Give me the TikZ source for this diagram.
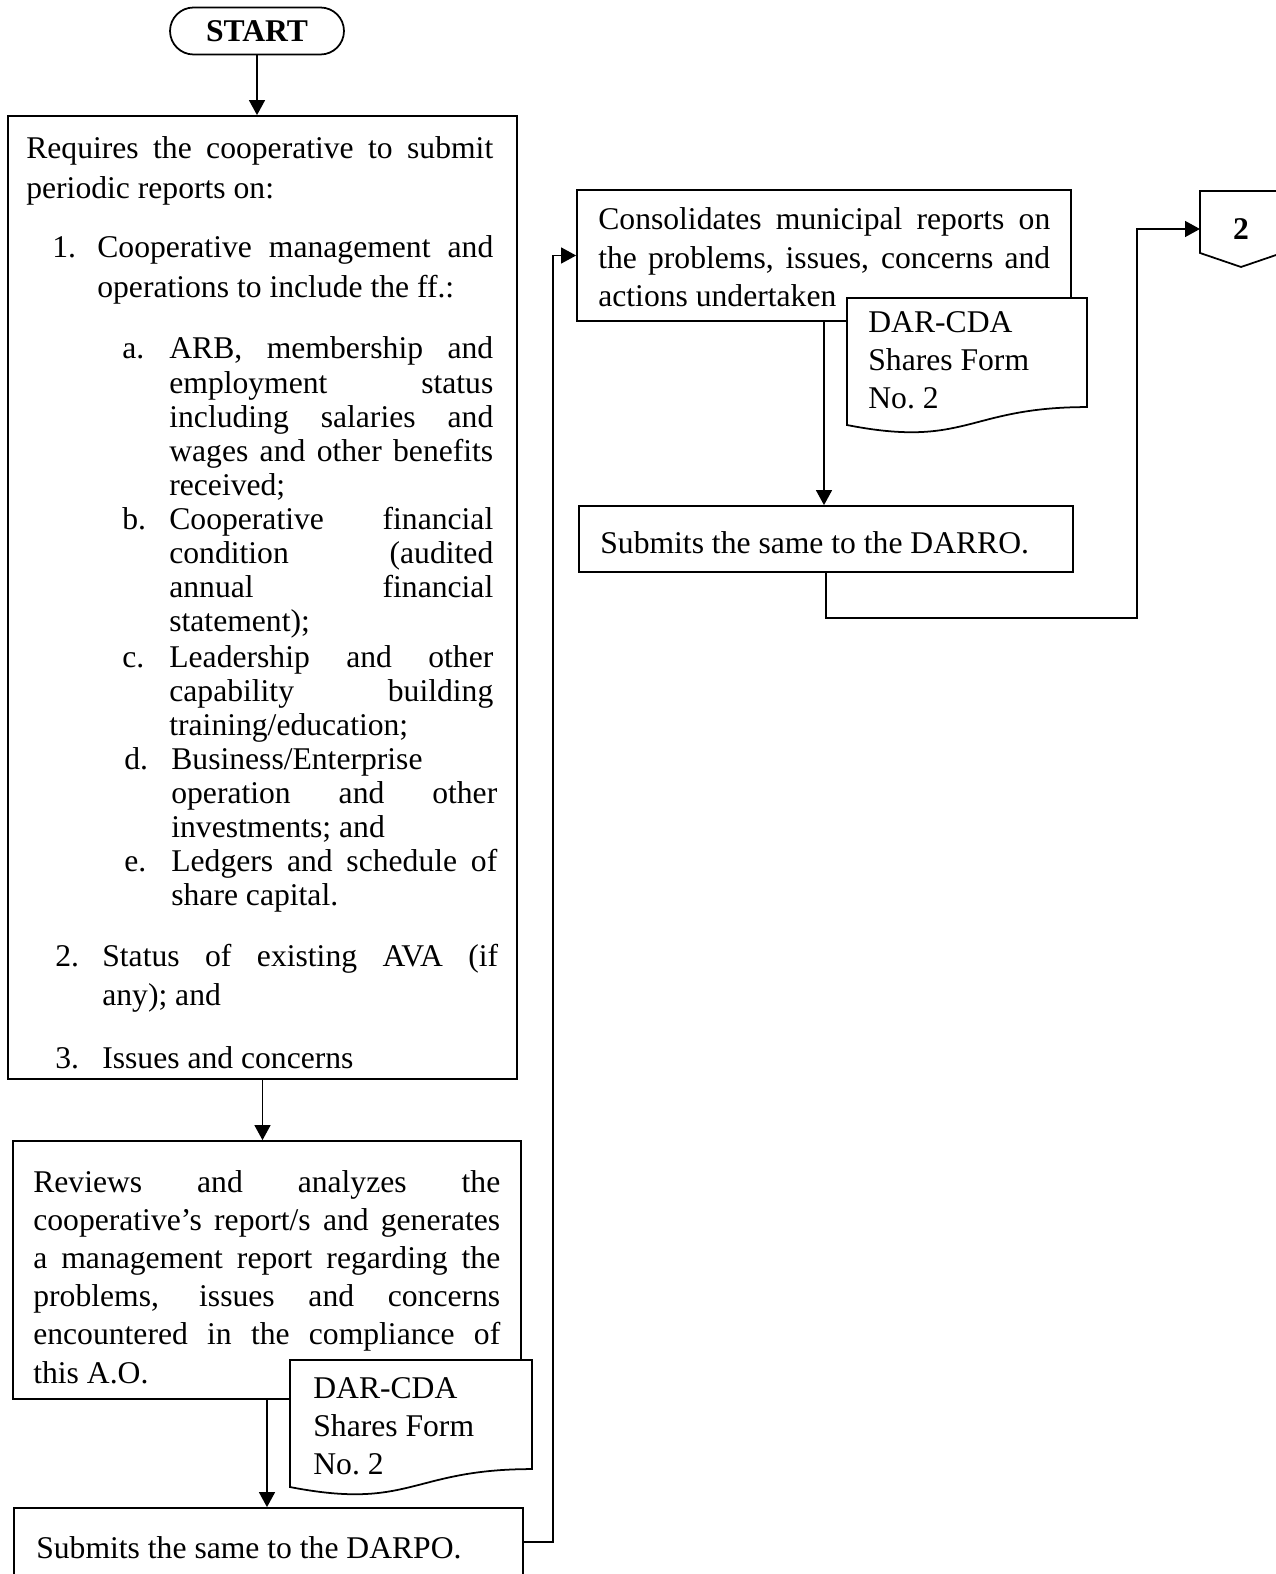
\documentclass[tikz,border=0pt]{standalone}
\usepackage{fontspec}
\setmainfont{Liberation Serif}
\usetikzlibrary{arrows.meta,calc,fit}
\newcommand\jl[1]{\makebox[\hsize][s]{\spaceskip=0pt\relax\xspaceskip=0pt\relax#1}}
% document symbol over a fitted node
\newcommand\formshape[1]{%
  \draw[line width=1pt,fill=white] (#1.north west) -- (#1.north east)
    -- ($(#1.north east)!0.802!(#1.south east)$)
    .. controls ($(#1.north)!0.802!(#1.south)$) and ($(#1.north)!1.107!(#1.south)$) ..
    ($(#1.north west)!0.934!(#1.south west)$) -- cycle;}

\begin{document}
\begin{tikzpicture}[x=0.02cm,y=-0.02cm,
  box/.style={draw,line width=1pt,inner sep=0pt},
  area/.style={inner sep=0pt,outer sep=0pt},
  txt/.style={anchor=base west,inner sep=0pt,align=justify,
    font=\fontsize{18}{22.2}\selectfont},
  sub/.style={txt,font=\fontsize{18}{19.46}\selectfont},
  ar/.style={-{Triangle[length=8.5pt,width=9pt]},line width=1pt}
]
\fill[white] (0,0) rectangle (1275,1574);
\useasboundingbox (0,0) rectangle (1275,1574);

% boxes
\node[draw,line width=1pt,rounded corners=0.47cm,minimum width=3.48cm,
  minimum height=0.94cm,inner sep=0pt,font=\fontsize{18}{22}\selectfont\bfseries]
  (start) at (257,31) {START};
\node[box,fit={(8,116)(517,1079)}] (coopreq) {};
\node[box,fit={(13,1141)(521,1399)}] (review) {};
\node[box,fit={(14,1508)(523,1576)}] (darpo) {};
\node[box,fit={(577,190)(1071,321)}] (consol) {};
\node[box,fit={(579,506)(1073,572)}] (darro) {};
\node[area,fit={(290,1360)(532,1496)}] (form1) {};
\node[area,fit={(847,298)(1087,434)}] (form2) {};
\formshape{form1}
\formshape{form2}
\node[area,minimum width=1.64cm,minimum height=1.52cm] (offpage) at (1241,229) {};
\draw[line width=1pt] (offpage.north west) -- (offpage.north east)
  -- ($(offpage.south east)+(0,-14)$) -- (offpage.south)
  -- ($(offpage.south west)+(0,-14)$) -- cycle;
\node[font=\fontsize{18}{22}\selectfont\bfseries] (pgnum) at (offpage) {2};

% first box
\node[txt,text width=9.34cm] (intro) at (26,159)
  {\jl{Requires the cooperative to submit}\\ periodic reports on:};
\node[txt] (n1) at (52,258) {1.};
\node[txt,text width=7.92cm] (item1) at (97,258)
  {\jl{Cooperative management and}\\ operations to include the ff.:};
\node[sub] (la) at (122,359) {a.};
\node[sub,text width=6.48cm] (suba) at (169,359)
  {\jl{ARB, membership and}\\ \jl{employment status}\\
   \jl{including salaries and}\\ \jl{wages and other benefits}\\ received;};
\node[sub] (lb) at (122,529) {b.};
\node[sub,text width=6.48cm] (subb) at (169,529)
  {\jl{Cooperative financial}\\ \jl{condition (audited}\\
   \jl{annual financial}\\ statement);};
\node[sub] (lc) at (122,667) {c.};
\node[sub,text width=6.48cm] (subc) at (169,667)
  {\jl{Leadership and other}\\ \jl{capability building}\\ training/education;};
\node[sub] (ld) at (124,769) {d.};
\node[sub,text width=6.52cm] (subd) at (171,769)
  {Business/Enterprise\\ \jl{operation and other}\\ investments; and};
\node[sub] (le) at (124,871) {e.};
\node[sub,text width=6.52cm] (sube) at (171,871)
  {\jl{Ledgers and schedule of}\\ share capital.};
\node[txt] (n2) at (55,966) {2.};
\node[txt,text width=7.92cm] (item2) at (102,966)
  {\jl{Status of existing AVA (if}\\ any); and};
\node[txt] (n3) at (55,1068) {3.};
\node[txt] (item3) at (102,1068) {Issues and concerns};

% other boxes
\node[txt,text width=9.34cm,font=\fontsize{18}{21.75}\selectfont] (reviewtxt) at (33,1192)
  {\jl{Reviews and analyzes the}\\ \jl{cooperative’s report/s and generates}\\
   \jl{a management report regarding the}\\ \jl{problems, issues and concerns}\\
   \jl{encountered in the compliance of}\\ this A.O.};
\node[txt] (darpotxt) at (36,1558) {Submits the same to the DARPO.};
\node[txt,text width=9.04cm,font=\fontsize{18}{21.9}\selectfont] (consoltxt) at (598,230)
  {\jl{Consolidates municipal reports on}\\ \jl{the problems, issues, concerns and}\\
   actions undertaken};
\node[txt] (darrotxt) at (600,553) {Submits the same to the DARRO.};
\node[txt,text width=4cm,font=\fontsize{18}{21.9}\selectfont] (form1txt) at (313,1398)
  {DAR-CDA\\ Shares Form\\ No.\ 2};
\node[txt,text width=4cm,font=\fontsize{18}{21.6}\selectfont] (form2txt) at (868,333)
  {DAR-CDA\\ Shares Form\\ No.\ 2};

% connectors
\coordinate (rise) at (1137,618);
\draw[ar] (start.south) -- (start.south |- coopreq.north);
\draw[ar] (coopreq.south) -- (coopreq.south |- review.north);
\draw[ar] (review.south) -- (review.south |- darpo.north);
\draw[ar] (darpo.east) -- ++(29,0) |- (consol.west);
\draw[ar] (consol.south) -- (consol.south |- darro.north);
\draw[ar] (darro.south) |- (rise) |- (offpage.west);
\end{tikzpicture}
\end{document}
